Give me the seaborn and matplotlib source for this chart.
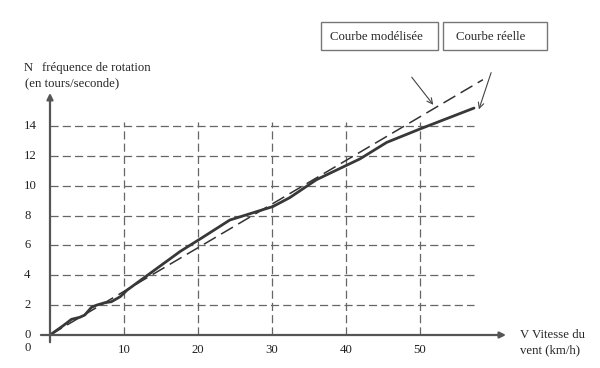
import pandas as pd
import seaborn as sns
import matplotlib.pyplot as plt
from matplotlib.patches import Rectangle

# wind speed (km/h) and rotation frequency (tours/s)
v_reelle = [0, 1.6, 2.25, 2.9, 4.05, 4.7, 5.6, 6.3, 7.4, 8.3, 9.5, 10.4, 14, 17.6,
            20.5, 24.3, 27.9, 30.1, 32.4, 36.0, 41.9, 45.5, 50, 57.3]
n_reelle = [0, 0.56, 0.8, 1.05, 1.19, 1.34, 1.85, 2.0, 2.16, 2.23, 2.57, 3.0, 4.3, 5.6,
            6.5, 7.7, 8.26, 8.6, 9.2, 10.4, 11.8, 12.9, 13.8, 15.2]
v_model = [0, 58.5]
n_model = [0, 17.1]

x_ticks = [10, 20, 30, 40, 50]
y_ticks = [0, 2, 4, 6, 8, 10, 12, 14]

reelle = pd.DataFrame({'V': v_reelle, 'N': n_reelle})
model = pd.DataFrame({'V': v_model, 'N': n_model})

sns.set_style('white')
plt.rcParams['font.family'] = ['Liberation Serif', 'DejaVu Serif']

fig = plt.figure(figsize=(6, 3.68), dpi=100)
ax = fig.add_axes([0, 0, 1, 1])
# 0 km/h at 50 px, 7.4 px per km/h ; 0 tr/s at 335 px, 14.93 px per tr/s
ax.set_xlim(-50 / 7.4, 550 / 7.4)
ax.set_ylim(-33 / 14.93, 335 / 14.93)
for s in ax.spines.values():
    s.set_visible(False)
ax.set_xticks([])
ax.set_yticks([])

grid_kw = dict(color='#666666', lw=0.9, linestyle=(0, (6.5, 3.3)))
ax.hlines(y_ticks[1:], 0, 57.3, **grid_kw)
ax.vlines(x_ticks, 0, 14.3, **grid_kw)

# axes with arrows
arrow_kw = dict(arrowstyle='-|>', color='#555555', lw=1.6, mutation_scale=9)
ax.annotate('', xy=(62.0, 0), xytext=(-1.6, 0), arrowprops=arrow_kw)
ax.annotate('', xy=(0, 16.4), xytext=(0, -0.67), arrowprops=arrow_kw)

sns.lineplot(data=model, x='V', y='N', ax=ax, color='#333333', lw=1.1,
             linestyle=(0, (9, 4)), sort=False)
sns.lineplot(data=reelle, x='V', y='N', ax=ax, color='#383838', lw=2.0, sort=False)
ax.set_xlabel('')
ax.set_ylabel('')

fs = 9.2
for t in x_ticks:
    ax.text(t, -1.0, str(t), ha='center', va='center', fontsize=fs, color='#222222')
for t in y_ticks:
    ax.text(-3.5, t, str(t), ha='left', va='center', fontsize=fs, color='#222222')
ax.text(-3.5, -0.87, '0', ha='left', va='center', fontsize=fs, color='#222222')

# labels in figure pixels (origin top-left)
def px(x, y):
    return x / 600, 1 - y / 368

fig.text(*px(24, 68), 'N', ha='left', va='center', fontsize=fs)
fig.text(*px(42, 68), 'fréquence de rotation', ha='left', va='center', fontsize=fs)
fig.text(*px(25, 83), '(en tours/seconde)', ha='left', va='center', fontsize=fs)
fig.text(*px(520, 335), 'V Vitesse du', ha='left', va='center', fontsize=fs)
fig.text(*px(520, 350), 'vent (km/h)', ha='left', va='center', fontsize=fs)

for (x0, x1, cx, label) in [(321, 438, 376, 'Courbe modélisée'),
                            (443, 547, 491, 'Courbe réelle')]:
    fig.patches.append(Rectangle(px(x0, 50), (x1 - x0) / 600, 28 / 368,
                                 transform=fig.transFigure, fill=False,
                                 edgecolor='#777777', lw=1.0))
    fig.text(*px(cx, 37), label, ha='center', va='center', fontsize=fs)

ann_kw = dict(arrowstyle='->', color='#444444', lw=0.8, mutation_scale=10)
ax.annotate('', xy=px(435, 107), xytext=px(410, 75), xycoords='figure fraction',
            textcoords='figure fraction', arrowprops=ann_kw)
ax.annotate('', xy=px(478, 112), xytext=px(492, 70), xycoords='figure fraction',
            textcoords='figure fraction', arrowprops=ann_kw)

fig.savefig('out.png', dpi=100)
